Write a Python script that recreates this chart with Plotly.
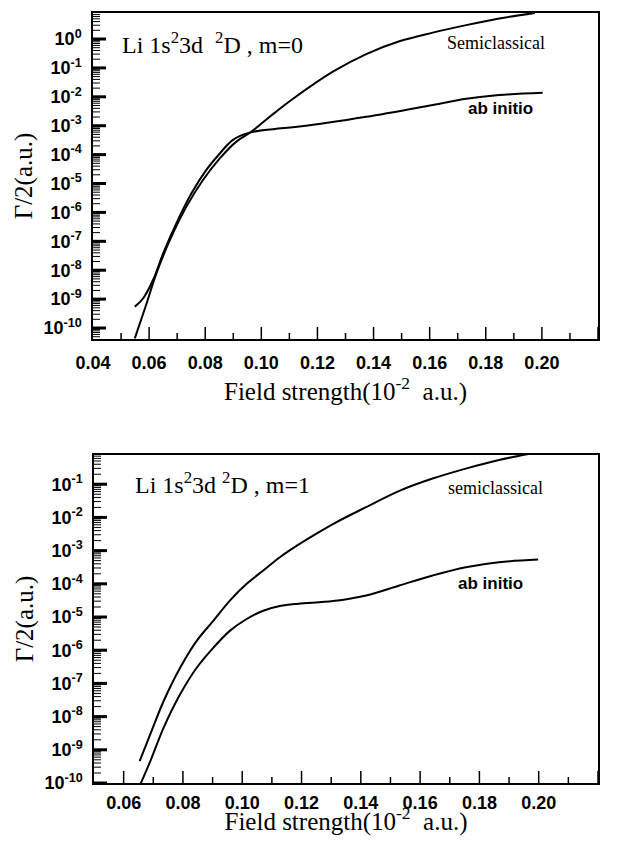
import plotly.graph_objects as go

# ---------------- data (log10 of Γ/2 in a.u.) ----------------
# m=0 panel
x_ab0 = [0.0549, 0.0579, 0.0614, 0.0650, 0.0697, 0.0751, 0.0804, 0.0852, 0.0899, 0.0958,
         0.1041, 0.1136, 0.1374, 0.1611, 0.1730, 0.1848, 0.2003]
logy_ab0 = [-9.26, -8.97, -8.34, -7.42, -6.38, -5.34, -4.53, -3.96, -3.49, -3.24,
            -3.12, -3.03, -2.69, -2.28, -2.07, -1.94, -1.86]
x_sc0 = [0.0549, 0.0591, 0.0626, 0.0674, 0.0733, 0.0792, 0.0852, 0.0911, 0.0964, 0.1030,
         0.1107, 0.1255, 0.1374, 0.1492, 0.1611, 0.1730, 0.1848, 0.1975]
logy_sc0 = [-10.36, -9.15, -8.11, -6.96, -5.80, -4.88, -4.13, -3.55, -3.21, -2.69,
            -2.11, -1.13, -0.52, -0.08, 0.22, 0.48, 0.71, 0.90]

# m=1 panel
x_sc1 = [0.0654, 0.0690, 0.0735, 0.0791, 0.0847, 0.0903, 0.0959, 0.1015, 0.1071, 0.1127,
         0.1183, 0.1239, 0.1306, 0.1418, 0.1530, 0.1642, 0.1754, 0.1866, 0.1978]
logy_sc1 = [-9.34, -8.53, -7.53, -6.52, -5.71, -5.11, -4.50, -4.00, -3.60, -3.20,
            -2.86, -2.55, -2.20, -1.69, -1.20, -0.83, -0.53, -0.27, -0.07]
x_ab1 = [0.0654, 0.0690, 0.0735, 0.0791, 0.0847, 0.0903, 0.0959, 0.1015, 0.1071, 0.1127,
         0.1189, 0.1306, 0.1418, 0.1530, 0.1642, 0.1754, 0.1866, 0.1998]
logy_ab1 = [-10.09, -9.34, -8.33, -7.32, -6.52, -5.92, -5.41, -5.06, -4.81, -4.67,
            -4.60, -4.52, -4.35, -4.05, -3.75, -3.50, -3.35, -3.27]

ytick_exp0 = list(range(-10, 1))
ytick_exp1 = list(range(-10, 0))
xticks0 = [0.04, 0.06, 0.08, 0.10, 0.12, 0.14, 0.16, 0.18, 0.20, 0.22]
xminor0 = [0.05, 0.07, 0.09, 0.11, 0.13, 0.15, 0.17, 0.19, 0.21]
xticks1 = [0.06, 0.08, 0.10, 0.12, 0.14, 0.16, 0.18, 0.20, 0.22]
xminor1 = [0.07, 0.09, 0.11, 0.13, 0.15, 0.17, 0.19, 0.21]
minor_digits = [2, 3, 4, 5, 6, 7, 8, 9]

# ---------------- figure ----------------
OFF = 8                      # the page body adds an 8 px margin around the figure
W, H = 618 - 2 * OFF, 844 - 2 * OFF   # keep the page free of scrollbars
def dom_x(a, b): return [(a - OFF) / W, (b - OFF) / W]
def dom_y(top, bot): return [1 - (bot - OFF) / H, 1 - (top - OFF) / H]

sans = "Liberation Sans, Arial"
serif = "Liberation Serif, Times New Roman"
xtickfont = dict(family=sans, size=18, color="black")
ytickfont = dict(family=sans, size=18, color="black")
titlefont = dict(family=serif, size=25, color="black")
CLEAR = "rgba(0,0,0,0)"

xr0, yr0 = [0.04, 0.22], [-10.38, 0.9]
xr1, yr1 = [0.05, 0.22], [-10.0, -0.12]
box0 = (93, 598, 13, 339)   # left, right, top, bottom in page pixels
box1 = (94, 598, 455, 783)

fig = go.Figure()
line = dict(color="black", width=2, shape="spline", smoothing=1.0)
fig.add_trace(go.Scatter(x=x_ab0, y=[10**v for v in logy_ab0], mode="lines", line=line, xaxis="x", yaxis="y"))
fig.add_trace(go.Scatter(x=x_sc0, y=[10**v for v in logy_sc0], mode="lines", line=line, xaxis="x", yaxis="y"))
fig.add_trace(go.Scatter(x=x_sc1, y=[10**v for v in logy_sc1], mode="lines", line=line, xaxis="x2", yaxis="y2"))
fig.add_trace(go.Scatter(x=x_ab1, y=[10**v for v in logy_ab1], mode="lines", line=line, xaxis="x2", yaxis="y2"))

# ---- tick marks inside the frame, built from the tick arrays and the axis scales ----
def add_xticks(vals, xr, yr, box, length, width, xa, ya):
    h = box[3] - box[2]
    top = 10 ** (yr[0] + length * (yr[1] - yr[0]) / h)
    xs, ys = [], []
    for v in vals:
        if xr[0] < v <= xr[1] + 1e-9:
            xs += [v, v, None]
            ys += [10 ** yr[0], top, None]
    fig.add_trace(go.Scatter(x=xs, y=ys, mode="lines", line=dict(color="black", width=width),
                             xaxis=xa, yaxis=ya, hoverinfo="skip", cliponaxis=False))

def add_yticks(vals, xr, yr, box, length, width, xa, ya):
    w = box[1] - box[0]
    right = xr[0] + length * (xr[1] - xr[0]) / w
    xs, ys = [], []
    for v in vals:
        if 10 ** yr[0] <= v <= 10 ** yr[1]:
            xs += [xr[0], right, None]
            ys += [v, v, None]
    fig.add_trace(go.Scatter(x=xs, y=ys, mode="lines", line=dict(color="black", width=width),
                             xaxis=xa, yaxis=ya, hoverinfo="skip", cliponaxis=False))

def minor_vals(exps):
    return [d * 10**e for e in [exps[0] - 1] + exps + [exps[-1] + 1] for d in minor_digits]

add_xticks(xticks0, xr0, yr0, box0, 12, 1.5, "x", "y")
add_xticks(xminor0, xr0, yr0, box0, 6, 1.5, "x", "y")
add_yticks([10**e for e in ytick_exp0], xr0, yr0, box0, 13, 3, "x", "y")
add_yticks(minor_vals(ytick_exp0), xr0, yr0, box0, 7, 1, "x", "y")
add_xticks(xticks1, xr1, yr1, box1, 12, 1.5, "x2", "y2")
add_xticks(xminor1, xr1, yr1, box1, 6, 1.5, "x2", "y2")
add_yticks([10**e for e in ytick_exp1], xr1, yr1, box1, 13, 3, "x2", "y2")
add_yticks(minor_vals(ytick_exp1), xr1, yr1, box1, 7, 1, "x2", "y2")

def xax(domain, rng, ticks, anchor, gap, standoff):
    return dict(domain=domain, range=rng, anchor=anchor, tickmode="array", tickvals=ticks,
                ticktext=[f"<b>{t:.2f}</b>" for t in ticks],
                ticks="outside", ticklen=gap, tickcolor=CLEAR, automargin=False,
                showline=True, linecolor="black", linewidth=1.5, mirror=True,
                showgrid=False, zeroline=False, tickfont=xtickfont,
                title=dict(text="Field strength(10<sup>-2</sup>  a.u.)", font=titlefont, standoff=standoff))

def yax(domain, rng, exps, anchor):
    return dict(domain=domain, type="log", range=rng, anchor=anchor, tickmode="array",
                tickvals=[10**e for e in exps],
                ticktext=[f"<b>10<sup>{e}</sup></b>" for e in exps],
                ticks="outside", ticklen=6, tickcolor=CLEAR, automargin=False,
                showline=True, linecolor="black", linewidth=1.5, mirror=True,
                showgrid=False, zeroline=False, tickfont=ytickfont,
                title=dict(text="Γ/2(a.u.)", font=titlefont, standoff=4))

fig.update_layout(
    width=W, height=H, margin=dict(l=0, r=0, t=0, b=0),
    paper_bgcolor="white", plot_bgcolor="white", showlegend=False,
    xaxis=xax(dom_x(box0[0], box0[1]), xr0, xticks0, "y", 7, 0),
    yaxis=yax(dom_y(box0[2], box0[3]), yr0, ytick_exp0, "x"),
    xaxis2=xax(dom_x(box1[0], box1[1]), xr1, xticks1, "y2", 3, 0),
    yaxis2=yax(dom_y(box1[2], box1[3]), yr1, ytick_exp1, "x2"),
)

ann = [
    dict(x=0.0496, y=-0.14, xref="x", yref="y", text="Li 1s<sup>2</sup>3d  <sup>2</sup>D , m=0",
         xanchor="left", font=dict(family=serif, size=24, color="black")),
    dict(x=0.1837, y=-0.14, xref="x", yref="y", text="Semiclassical",
         font=dict(family=serif, size=18, color="black")),
    dict(x=0.1851, y=-2.42, xref="x", yref="y", text="<b>ab initio</b>",
         font=dict(family=sans, size=17, color="black")),
    dict(x=0.0633, y=-0.97, xref="x2", yref="y2", text="Li 1s<sup>2</sup>3d <sup>2</sup>D , m=1",
         xanchor="left", font=dict(family=serif, size=24, color="black")),
    dict(x=0.1853, y=-1.12, xref="x2", yref="y2", text="semiclassical",
         font=dict(family=serif, size=18, color="black")),
    dict(x=0.1836, y=-3.99, xref="x2", yref="y2", text="<b>ab initio</b>",
         font=dict(family=sans, size=17, color="black")),
]
fig.update_layout(annotations=[dict(showarrow=False, **a) for a in ann])

fig.write_html("out.html")
